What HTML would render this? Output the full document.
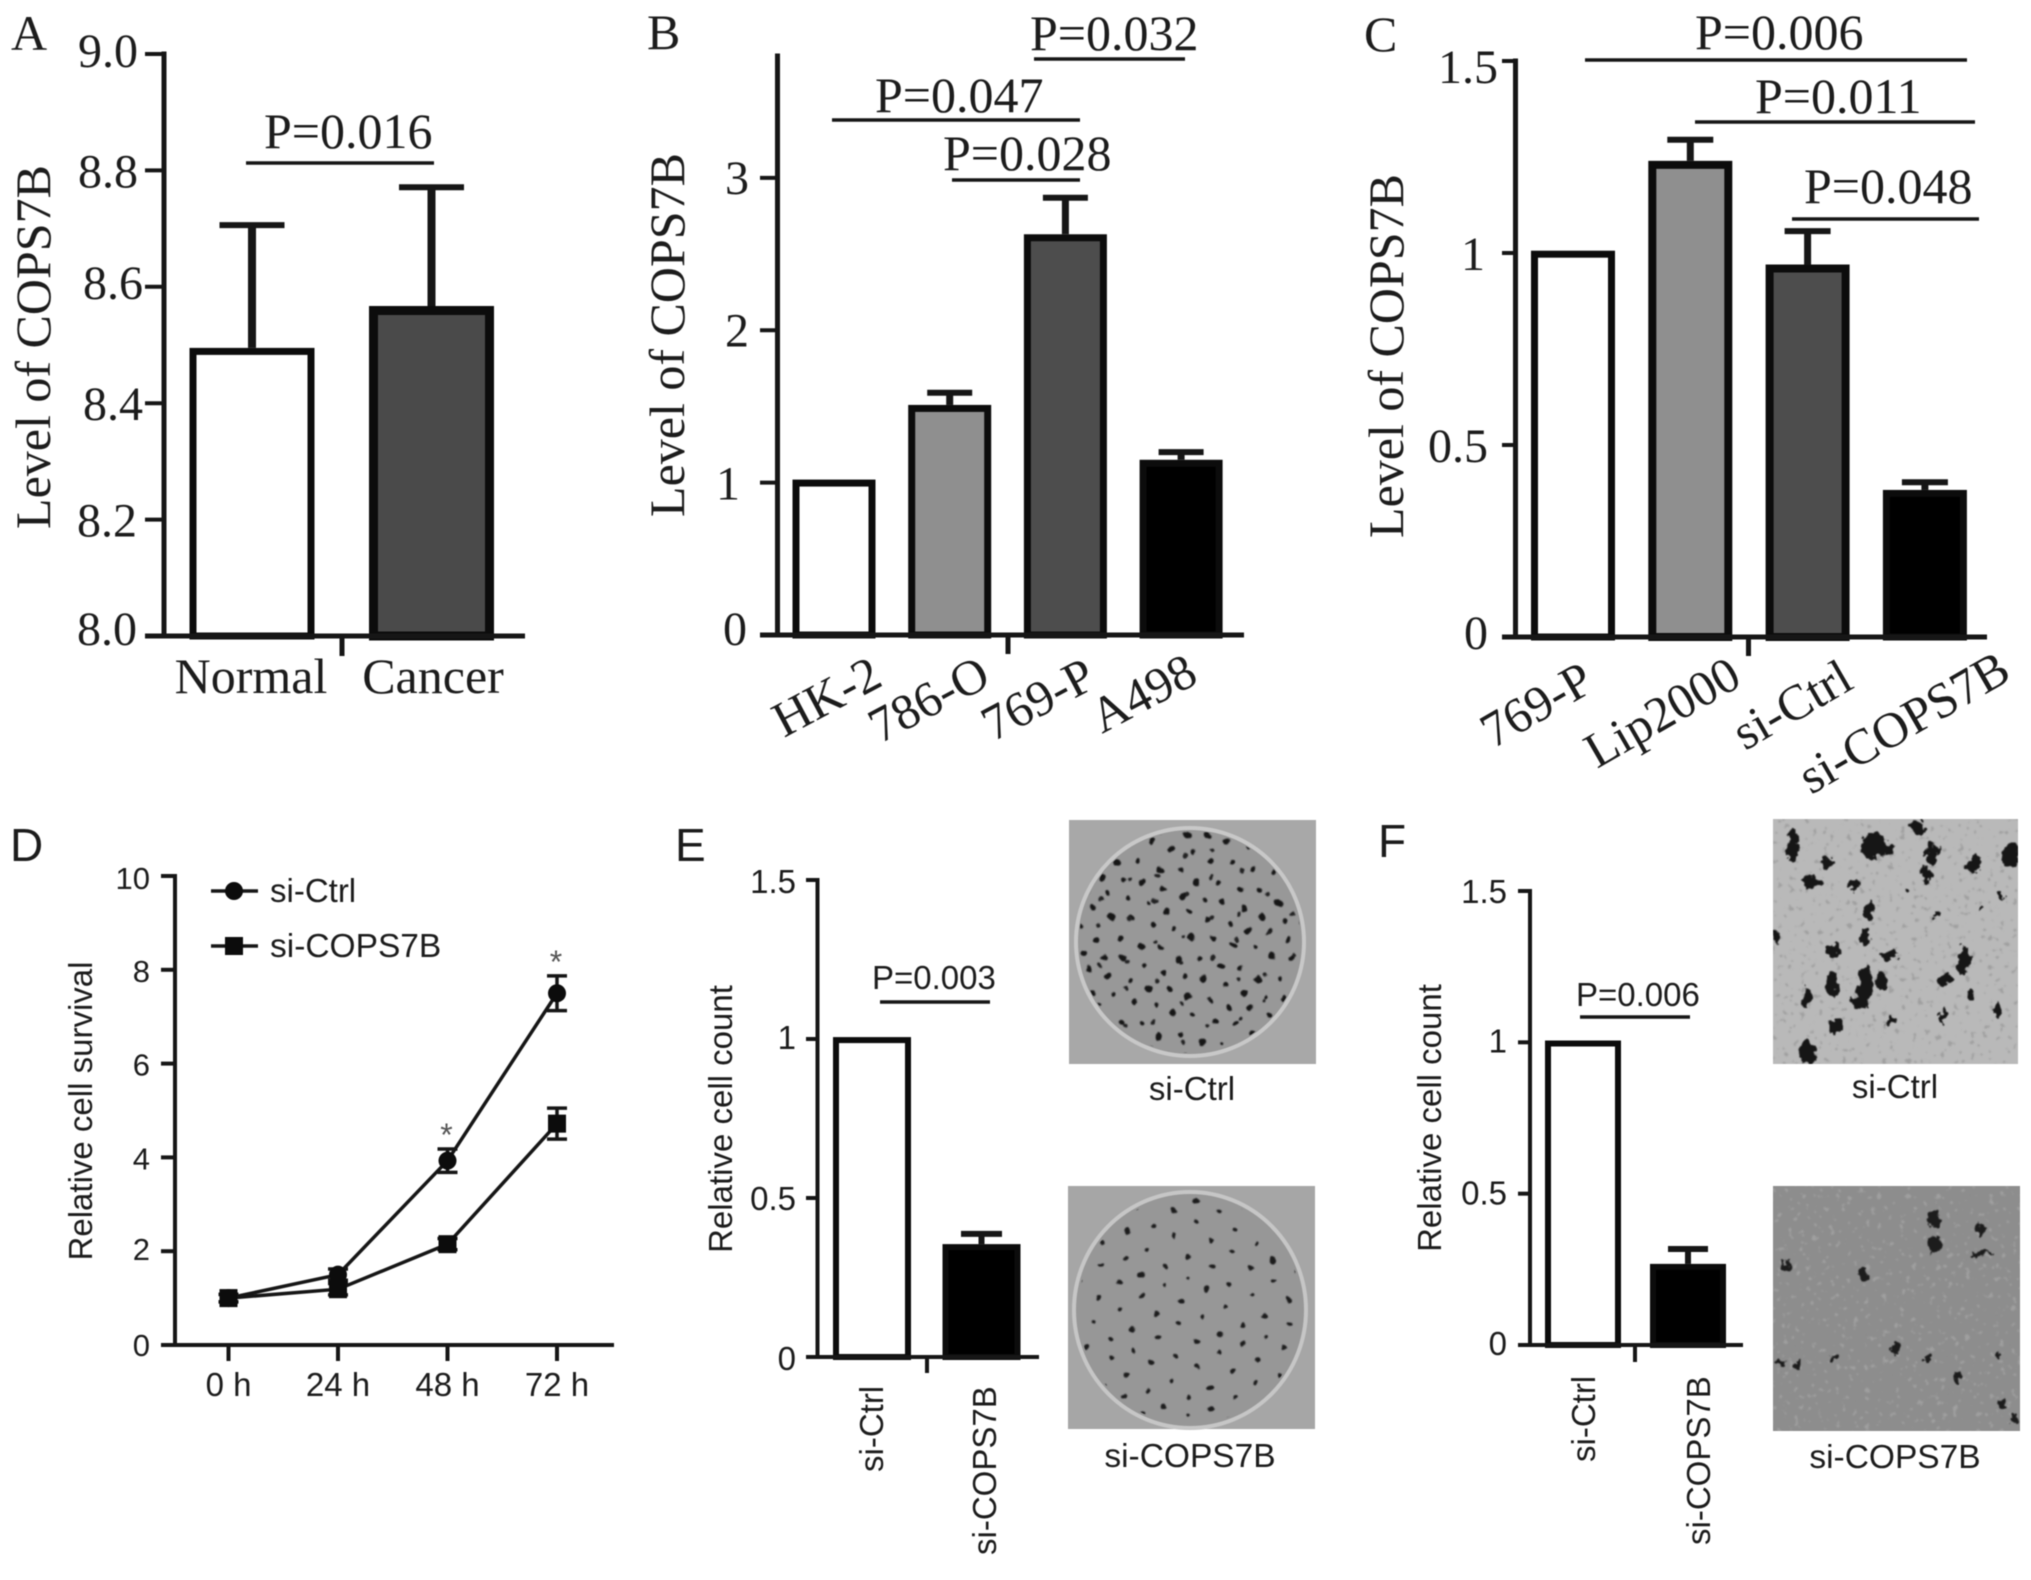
<!DOCTYPE html>
<html lang="en">
<head>
<meta charset="utf-8">
<title>COPS7B expression and function figure</title>
<style>
html,body{margin:0;padding:0;background:#fff;width:2031px;height:1580px;overflow:hidden}
svg{display:block;filter:blur(.55px)}
</style>
</head>
<body>
<svg id="figure" xmlns="http://www.w3.org/2000/svg" width="2031" height="1580" viewBox="0 0 2031 1580">
<defs>
<pattern id="dotsA" patternUnits="userSpaceOnUse" width="83" height="79" patternTransform="rotate(14)">
<g fill="#161618">
<circle cx="8" cy="10" r="3.2"/><circle cx="27" cy="6" r="2.4"/><circle cx="47" cy="14" r="3.6"/><circle cx="68" cy="8" r="2.6"/>
<circle cx="16" cy="28" r="2.8"/><circle cx="37" cy="31" r="3"/><circle cx="58" cy="29" r="2.4"/><circle cx="76" cy="26" r="3.4"/>
<circle cx="6" cy="46" r="2.4"/><circle cx="25" cy="49" r="3.6"/><circle cx="46" cy="44" r="2.6"/><circle cx="66" cy="47" r="3"/>
<circle cx="15" cy="66" r="3.2"/><circle cx="36" cy="63" r="2.4"/><circle cx="55" cy="68" r="3.4"/><circle cx="75" cy="64" r="2.6"/>
</g>
</pattern>
<pattern id="dotsB" patternUnits="userSpaceOnUse" width="61" height="67" patternTransform="rotate(-23)">
<g fill="#222224"><circle cx="10" cy="15" r="2.2"/><circle cx="40" cy="8" r="2"/><circle cx="25" cy="45" r="2.4"/><circle cx="52" cy="52" r="2"/></g>
</pattern>
<pattern id="dotsC" patternUnits="userSpaceOnUse" width="97" height="91" patternTransform="rotate(37)">
<g fill="#1a1a1c">
<circle cx="9" cy="12" r="2.6"/><circle cx="33" cy="7" r="2"/><circle cx="56" cy="16" r="3"/><circle cx="81" cy="9" r="2.2"/>
<circle cx="20" cy="34" r="2.2"/><circle cx="44" cy="37" r="2.6"/><circle cx="69" cy="33" r="2"/><circle cx="90" cy="31" r="3"/>
<circle cx="7" cy="55" r="2"/><circle cx="30" cy="58" r="3.2"/><circle cx="55" cy="52" r="2.2"/><circle cx="77" cy="56" r="2.6"/>
<circle cx="17" cy="78" r="2.8"/><circle cx="42" cy="74" r="2"/><circle cx="65" cy="80" r="2.8"/><circle cx="88" cy="75" r="2.2"/>
</g>
</pattern>
<filter id="roughDots" x="-2%" y="-2%" width="104%" height="104%"><feTurbulence type="fractalNoise" baseFrequency=".09" numOctaves="2" seed="5" result="n"/><feDisplacementMap in="SourceGraphic" in2="n" scale="7" xChannelSelector="R" yChannelSelector="G"/><feGaussianBlur stdDeviation=".5"/></filter>
<filter id="roughClumps" x="-2%" y="-2%" width="104%" height="104%"><feTurbulence type="fractalNoise" baseFrequency=".11" numOctaves="3" seed="9" result="n"/><feDisplacementMap in="SourceGraphic" in2="n" scale="14" xChannelSelector="R" yChannelSelector="G"/><feGaussianBlur stdDeviation=".5"/></filter>
<filter id="cellsFine" x="0" y="0" width="100%" height="100%"><feTurbulence type="fractalNoise" baseFrequency=".17" numOctaves="2" seed="3"/><feColorMatrix type="matrix" values="0 0 0 0 .35 0 0 0 0 .35 0 0 0 0 .35 14 0 0 0 -9.2"/><feGaussianBlur stdDeviation=".7"/></filter>
<clipPath id="wellTop"><ellipse cx="1190" cy="942" rx="111" ry="111"/></clipPath>
<clipPath id="wellBottom"><ellipse cx="1190" cy="1310" rx="112" ry="114"/></clipPath>
<clipPath id="migTop"><rect x="1773" y="819" width="245" height="245"/></clipPath>
<clipPath id="migBottom"><rect x="1773" y="1186" width="247" height="245"/></clipPath>
</defs>
<rect x="0" y="0" width="2031" height="1580" fill="#fff"/>

<g>
<rect x="1069" y="820" width="247" height="244" fill="#a8a8a8"/>
<ellipse cx="1190" cy="942" rx="114" ry="114" fill="#989898" stroke="#c8c8c8" stroke-width="4"/>
<g clip-path="url(#wellTop)"><g filter="url(#roughDots)">
<rect x="1069" y="820" width="247" height="244" fill="url(#dotsA)"/>
<rect x="1069" y="820" width="247" height="244" fill="url(#dotsB)"/>
</g></g>
</g>
<g>
<rect x="1068" y="1186" width="247" height="243" fill="#a6a6a6"/>
<ellipse cx="1190" cy="1310" rx="116" ry="118" fill="#979797" stroke="#c6c6c6" stroke-width="4"/>
<g clip-path="url(#wellBottom)"><g filter="url(#roughDots)">
<rect x="1068" y="1186" width="247" height="243" fill="url(#dotsC)"/>
</g></g>
</g>
<g clip-path="url(#migTop)">
<rect x="1773" y="819" width="245" height="245" fill="#b9b9b9"/>
<rect x="1773" y="819" width="245" height="245" filter="url(#cellsFine)"/>
<g filter="url(#roughClumps)"><g transform="translate(1351,800) scale(.4337,.4975)" fill="#141414">
<ellipse cx="1020" cy="90" rx="14" ry="30"/><ellipse cx="1205" cy="90" rx="32" ry="26"/><ellipse cx="1240" cy="100" rx="14" ry="10"/>
<ellipse cx="1305" cy="55" rx="18" ry="14"/><ellipse cx="1340" cy="110" rx="13" ry="22"/><ellipse cx="1325" cy="150" rx="12" ry="18"/>
<ellipse cx="1522" cy="110" rx="18" ry="30"/><ellipse cx="1436" cy="132" rx="17" ry="17"/><ellipse cx="1100" cy="130" rx="14" ry="14"/>
<ellipse cx="1060" cy="165" rx="22" ry="12"/><ellipse cx="1162" cy="172" rx="10" ry="11"/><ellipse cx="1195" cy="225" rx="12" ry="24"/>
<ellipse cx="1185" cy="275" rx="9" ry="18"/><ellipse cx="1110" cy="302" rx="14" ry="14"/><ellipse cx="1240" cy="310" rx="22" ry="10"/>
<ellipse cx="1412" cy="322" rx="14" ry="30"/><ellipse cx="1370" cy="360" rx="18" ry="9"/><ellipse cx="1108" cy="372" rx="14" ry="24"/>
<ellipse cx="1185" cy="375" rx="18" ry="40"/><ellipse cx="1222" cy="362" rx="10" ry="18"/><ellipse cx="1052" cy="396" rx="12" ry="18"/>
<ellipse cx="1430" cy="392" rx="11" ry="14"/><ellipse cx="1490" cy="420" rx="11" ry="17"/><ellipse cx="1365" cy="432" rx="7" ry="22"/>
<ellipse cx="1116" cy="455" rx="13" ry="13"/><ellipse cx="1247" cy="442" rx="12" ry="10"/><ellipse cx="1052" cy="507" rx="20" ry="22"/>
<ellipse cx="980" cy="275" rx="7" ry="16"/><ellipse cx="1500" cy="192" rx="9" ry="8"/><ellipse cx="1347" cy="229" rx="8" ry="7"/>
<ellipse cx="1450" cy="215" rx="6" ry="7"/><ellipse cx="1280" cy="184" rx="8" ry="6"/><ellipse cx="1170" cy="408" rx="14" ry="14"/>
</g></g>
</g>
<g clip-path="url(#migBottom)">
<rect x="1773" y="1186" width="247" height="245" fill="#8d8d8d"/>
<rect x="1773" y="1186" width="247" height="245" filter="url(#cellsFine)"/>
<g filter="url(#roughClumps)"><g transform="translate(1351,800) scale(.4337,.4975)" fill="#1c1c1c">
<ellipse cx="1347" cy="845" rx="16" ry="16"/><ellipse cx="1345" cy="893" rx="14" ry="16"/><ellipse cx="1450" cy="868" rx="9" ry="16"/>
<ellipse cx="1455" cy="911" rx="22" ry="5"/><ellipse cx="1004" cy="938" rx="14" ry="9"/><ellipse cx="1180" cy="955" rx="11" ry="14"/>
<ellipse cx="1260" cy="1098" rx="13" ry="12"/><ellipse cx="1120" cy="1122" rx="11" ry="5"/><ellipse cx="1395" cy="1160" rx="9" ry="9"/>
<ellipse cx="1503" cy="1216" rx="9" ry="8"/><ellipse cx="1490" cy="1116" rx="8" ry="5"/><ellipse cx="1325" cy="1125" rx="8" ry="7"/>
<ellipse cx="990" cy="1130" rx="8" ry="8"/><ellipse cx="1030" cy="1135" rx="9" ry="7"/><ellipse cx="1530" cy="1245" rx="6" ry="8"/>
</g></g>
</g>
</svg>

<script>
// Panel A
const aCategories = ['Normal', 'Cancer'];
const aValues = [8.495, 8.567];
const aErrors = [0.211, 0.204];
const aTicks = [8.0, 8.2, 8.4, 8.6, 8.8, 9.0];
const aTickLabels = ['8.0', '8.2', '8.4', '8.6', '8.8', '9.0'];
// Panel B
const bCategories = ['HK-2', '786-O', '769-P', 'A498'];
const bValues = [1.02, 1.51, 2.63, 1.15];
const bErrors = [0, 0.08, 0.24, 0.05];
const bTicks = [0, 1, 2, 3];
const bTickLabels = ['0', '1', '2', '3'];
// Panel C
const cCategories = ['769-P', 'Lip2000', 'si-Ctrl', 'si-COPS7B'];
const cValues = [1.006, 1.24, 0.97, 0.383];
const cErrors = [0, 0.055, 0.087, 0.02];
const cTicks = [0, 0.5, 1, 1.5];
const cTickLabels = ['0', '0.5', '1', '1.5'];
// Panel D
const dTimes = ['0 h', '24 h', '48 h', '72 h'];
const dCtrlValues = [1.0, 1.5, 3.93, 7.5];
const dCtrlErrors = [0.08, 0.12, 0.25, 0.37];
const dCopsValues = [1.0, 1.19, 2.15, 4.72];
const dCopsErrors = [0.08, 0.12, 0.12, 0.33];
const dTicks = [0, 2, 4, 6, 8, 10];
const dTickLabels = ['0', '2', '4', '6', '8', '10'];
const dStarFlags = [false, false, true, true];
// Panel E
const eCategories = ['si-Ctrl', 'si-COPS7B'];
const eValues = [1.006, 0.355];
const eErrors = [0, 0.032];
const eTicks = [0, 0.5, 1, 1.5];
const eTickLabels = ['0', '0.5', '1', '1.5'];
// Panel F
const fCategories = ['si-Ctrl', 'si-COPS7B'];
const fValues = [1.006, 0.268];
const fErrors = [0, 0.049];
const fTicks = [0, 0.5, 1, 1.5];
const fTickLabels = ['0', '0.5', '1', '1.5'];

const NS = 'http://www.w3.org/2000/svg';
const SERIF = '"Liberation Serif", serif';
const SANS = '"Liberation Sans", sans-serif';
const INK = '#161616';
const root = document.getElementById('figure');

function node(tag, attrs, parent) {
  const n = document.createElementNS(NS, tag);
  for (const k in attrs) n.setAttribute(k, attrs[k]);
  (parent || root).appendChild(n);
  return n;
}
function seg(x1, y1, x2, y2, w, parent) {
  return node('line', { x1: x1, y1: y1, x2: x2, y2: y2, stroke: INK, 'stroke-width': w }, parent);
}
function label(str, x, y, size, family, opts, parent) {
  const o = opts || {};
  const attrs = { x: x, y: y, 'font-size': size, 'font-family': family, fill: o.fill || '#1c1c1c', 'text-anchor': o.anchor || 'start' };
  if (o.rot) attrs.transform = 'rotate(' + o.rot + ' ' + x + ' ' + y + ')';
  const n = node('text', attrs, parent);
  n.textContent = str;
  return n;
}

function drawBarPanel(p) {
  const yOf = v => p.bottom - (v - p.yMin) / (p.yMax - p.yMin) * (p.bottom - p.top);
  const xOf = i => p.firstCenter + i * p.step;
  const group = node('g', {});
  
  

  p.values.forEach(function (v, i) {
    const s = p.strokes[i];
    const cx = xOf(i);
    const bar = node('rect', { x: cx - p.barW / 2 + s / 2, y: yOf(v) + s / 2, width: p.barW - s, height: Math.max(0, p.bottom - yOf(v) - s / 2), fill: p.fills[i], stroke: '#0c0c0c', 'stroke-width': s }, group);
    
    
    if (p.errors[i] > 0) {
      const stem = seg(cx, yOf(v), cx, yOf(v + p.errors[i]), p.stem, group);
      
      
      const cap = seg(cx - p.capW / 2, yOf(v + p.errors[i]), cx + p.capW / 2, yOf(v + p.errors[i]), p.capT, group);
      
      
    }
  });

  const yAxis = seg(p.axisX, p.top - p.axisW / 2, p.axisX, p.bottom, p.axisW, group);
  
  
  const xAxis = seg(p.tickLeft, p.bottom, p.right, p.bottom, p.axisW, group);
  
  
  const midTick = seg(p.midX, p.bottom, p.midX, p.midBottom, p.axisW, group);
  
  

  p.ticks.forEach(function (t, i) {
    if (t !== p.yMin) {
      const tick = seg(p.tickLeft, yOf(t), p.axisX, yOf(t), p.tickW, group);
      
      
    }
    const tl = label(p.tickLabels[i], p.tickRight[i], yOf(t) + p.tickDy[i], p.tickSize, p.family, { anchor: 'end' }, group);
    
    
  });

  p.categories.forEach(function (c, i) {
    const pos = p.catPos[i];
    const cl = label(c, pos[0], pos[1], p.catSize, p.family, { rot: p.catRot, anchor: p.catAnchor }, group);
    
    
  });

  const title = label(p.title, p.titleX, p.titleY, p.titleSize, p.family, { rot: -90, anchor: 'middle' }, group);
  
  

  p.notes.forEach(function (a) {
    const rule = seg(a.x1, a.y, a.x2, a.y, 3.5, group);
    
    
    const note = label(a.text, a.tx, a.ty, p.noteSize, p.family, {}, group);
    
    
  });

  const letter = label(p.letter[0], p.letter[1], p.letter[2], p.letter[3], p.family, {}, group);
  
  
}

drawBarPanel({
  key: 'a', letter: ['A', 11, 50, 50], family: SERIF, title: 'Level of COPS7B', titleX: 50, titleY: 347, titleSize: 50,
  categories: aCategories, values: aValues, errors: aErrors, ticks: aTicks, tickLabels: aTickLabels,
  yMin: 8, yMax: 9, top: 54, bottom: 636, axisX: 164, tickLeft: 145, right: 525, midX: 342, midBottom: 656,
  axisW: 5, tickW: 4, firstCenter: 252, step: 179.5, barW: 125, strokes: [7, 9], fills: ['#ffffff', '#4a4a4a'],
  stem: 8, capW: 65, capT: 6, tickSize: 48, tickRight: [137, 137, 143, 143, 138, 138], tickDy: [9, 17, 17, 12, 17, 13],
  catPos: [[251, 693], [433, 693]], catSize: 50, catAnchor: 'middle', catRot: 0, noteSize: 50,
  notes: [{ text: 'P=0.016', x1: 246, x2: 434, y: 163, tx: 264, ty: 148 }]
});

drawBarPanel({
  key: 'b', letter: ['B', 647, 49, 50], family: SERIF, title: 'Level of COPS7B', titleX: 684, titleY: 335, titleSize: 50,
  categories: bCategories, values: bValues, errors: bErrors, ticks: bTicks, tickLabels: bTickLabels,
  yMin: 0, yMax: 3.8, top: 56, bottom: 635, axisX: 777.5, tickLeft: 760, right: 1244, midX: 1008, midBottom: 654,
  axisW: 5, tickW: 4, firstCenter: 834, step: 115.7, barW: 83, strokes: [7, 7, 7, 7], fills: ['#ffffff', '#8f8f8f', '#4d4d4d', '#000000'],
  stem: 7, capW: 45, capT: 6, tickSize: 48, tickRight: [747, 740, 749, 749], tickDy: [10, 17, 16, 16],
  catPos: [[784, 738], [880, 744], [993, 742], [1102, 734]], catSize: 50, catAnchor: 'start', catRot: -28, noteSize: 50,
  notes: [
    { text: 'P=0.032', x1: 1034, x2: 1185, y: 59, tx: 1030, ty: 50 },
    { text: 'P=0.047', x1: 832, x2: 1080, y: 120, tx: 875, ty: 112 },
    { text: 'P=0.028', x1: 952, x2: 1080, y: 180, tx: 943, ty: 170 }
  ]
});

drawBarPanel({
  key: 'c', letter: ['C', 1364, 51, 50], family: SERIF, title: 'Level of COPS7B', titleX: 1403, titleY: 356, titleSize: 50,
  categories: cCategories, values: cValues, errors: cErrors, ticks: cTicks, tickLabels: cTickLabels,
  yMin: 0, yMax: 1.5, top: 61, bottom: 637, axisX: 1515.5, tickLeft: 1502, right: 1987, midX: 1748.5, midBottom: 656,
  axisW: 5, tickW: 4, firstCenter: 1573, step: 117.3, barW: 84, strokes: [7, 8, 8, 7], fills: ['#ffffff', '#8f8f8f', '#4d4d4d', '#000000'],
  stem: 7, capW: 46, capT: 6, tickSize: 48, tickRight: [1488, 1488, 1485, 1498], tickDy: [12, 17, 17, 22],
  catPos: [[1493, 749], [1597, 769], [1745, 751], [1811, 795]], catSize: 50, catAnchor: 'start', catRot: -30, noteSize: 50,
  notes: [
    { text: 'P=0.006', x1: 1585, x2: 1967, y: 60, tx: 1695, ty: 49 },
    { text: 'P=0.011', x1: 1695, x2: 1975, y: 122, tx: 1755, ty: 113 },
    { text: 'P=0.048', x1: 1792, x2: 1979, y: 219, tx: 1804, ty: 203 }
  ]
});

drawBarPanel({
  key: 'e', letter: ['E', 675, 861, 46], family: SANS, title: 'Relative cell count', titleX: 732, titleY: 1119, titleSize: 33,
  categories: eCategories, values: eValues, errors: eErrors, ticks: eTicks, tickLabels: eTickLabels,
  yMin: 0, yMax: 1.5, top: 880, bottom: 1357, axisX: 817.5, tickLeft: 806, right: 1039, midX: 927, midBottom: 1373,
  axisW: 4, tickW: 4, firstCenter: 872, step: 109.5, barW: 78, strokes: [6, 6], fills: ['#ffffff', '#000000'],
  stem: 6, capW: 41, capT: 6, tickSize: 33, tickRight: [796, 796, 796, 796], tickDy: [13, 12, 10, 13],
  catPos: [[883, 1472], [996, 1555]], catSize: 33, catAnchor: 'start', catRot: -90, noteSize: 33,
  notes: [{ text: 'P=0.003', x1: 880, x2: 990, y: 1002, tx: 872, ty: 989 }]
});

drawBarPanel({
  key: 'f', letter: ['F', 1378, 857, 46], family: SANS, title: 'Relative cell count', titleX: 1441, titleY: 1118, titleSize: 33,
  categories: fCategories, values: fValues, errors: fErrors, ticks: fTicks, tickLabels: fTickLabels,
  yMin: 0, yMax: 1.5, top: 891, bottom: 1345, axisX: 1530, tickLeft: 1518, right: 1743, midX: 1635, midBottom: 1362,
  axisW: 4, tickW: 4, firstCenter: 1583, step: 105, barW: 76, strokes: [6, 6], fills: ['#ffffff', '#000000'],
  stem: 6, capW: 40, capT: 6, tickSize: 33, tickRight: [1507, 1507, 1507, 1507], tickDy: [10, 11, 10, 12],
  catPos: [[1595, 1462], [1710, 1545]], catSize: 33, catAnchor: 'start', catRot: -90, noteSize: 33,
  notes: [{ text: 'P=0.006', x1: 1580, x2: 1690, y: 1017, tx: 1576, ty: 1006 }]
});

// Panel D: line chart
(function () {
  const top = 876, bottom = 1345, axisX = 175, left = 161, right = 614;
  const yOf = v => bottom - v / 10 * (bottom - top);
  const xOf = i => 228.5 + i * 109.5;
  const group = node('g', {});
  
  

  const yAxis = seg(axisX, top - 2, axisX, bottom, 4, group);
  
  
  const xAxis = seg(left, bottom, right, bottom, 4, group);
  
  

  const tickDy = [11, 9, 12, 12, 12, 13];
  dTicks.forEach(function (t, i) {
    const tick = seg(left, yOf(t), axisX, yOf(t), 4, group);
    
    
    const tl = label(dTickLabels[i], 150, yOf(t) + tickDy[i], 31, SANS, { anchor: 'end' }, group);
    
    
  });
  dTimes.forEach(function (c, i) {
    const tick = seg(xOf(i), bottom, xOf(i), 1361, 4, group);
    
    
    const cl = label(c, xOf(i), 1396, 33, SANS, { anchor: 'middle' }, group);
    
    
  });

  function series(name, values, errors, square) {
    const pts = values.map((v, i) => xOf(i) + ',' + yOf(v)).join(' ');
    const path = node('polyline', { points: pts, fill: 'none', stroke: INK, 'stroke-width': 3.5 }, group);
    
    
    values.forEach(function (v, i) {
      const e = errors[i], x = xOf(i);
      const stem = seg(x, yOf(v - e), x, yOf(v + e), 3.5, group);
      
      
      const capHi = seg(x - 10, yOf(v + e), x + 10, yOf(v + e), 3.5, group);
      
      
      const capLo = seg(x - 10, yOf(v - e), x + 10, yOf(v - e), 3.5, group);
      
      
      const mark = square
        ? node('rect', { x: x - 9, y: yOf(v) - 9, width: 18, height: 18, fill: '#0c0c0c' }, group)
        : node('circle', { cx: x, cy: yOf(v), r: 9, fill: '#0c0c0c' }, group);
      
      
    });
  }
  series('si-ctrl', dCtrlValues, dCtrlErrors, false);
  series('si-cops7b', dCopsValues, dCopsErrors, true);

  dStarFlags.forEach(function (flag, i) {
    if (!flag) return;
    const star = label('*', xOf(i) - 1, yOf(dCtrlValues[i] + dCtrlErrors[i]) - 3, 32, SANS, { anchor: 'middle', fill: '#555555' }, group);
    
    
  });

  const title = label('Relative cell survival', 92, 1111, 33, SANS, { rot: -90, anchor: 'middle' }, group);
  
  
  const letter = label('D', 10, 861, 46, SANS, {}, group);
  
  

  const leg1Line = seg(211, 891, 258, 891, 3.5, group);
  
  
  const leg1Mark = node('circle', { cx: 234, cy: 891, r: 9, fill: '#0c0c0c' }, group);
  
  
  const leg1Text = label('si-Ctrl', 270, 902, 33, SANS, {}, group);
  
  
  const leg2Line = seg(211, 946, 258, 946, 3.5, group);
  
  
  const leg2Mark = node('rect', { x: 225, y: 937, width: 18, height: 18, fill: '#0c0c0c' }, group);
  
  
  const leg2Text = label('si-COPS7B', 270, 957, 33.5, SANS, {}, group);
  
  
})();

// Photo captions
const cap1 = label('si-Ctrl', 1192, 1100, 33, SANS, { anchor: 'middle' });


const cap2 = label('si-COPS7B', 1190, 1467, 33.5, SANS, { anchor: 'middle' });


const cap3 = label('si-Ctrl', 1895, 1098, 33, SANS, { anchor: 'middle' });


const cap4 = label('si-COPS7B', 1895, 1468, 33.5, SANS, { anchor: 'middle' });


</script>
</body>
</html>
